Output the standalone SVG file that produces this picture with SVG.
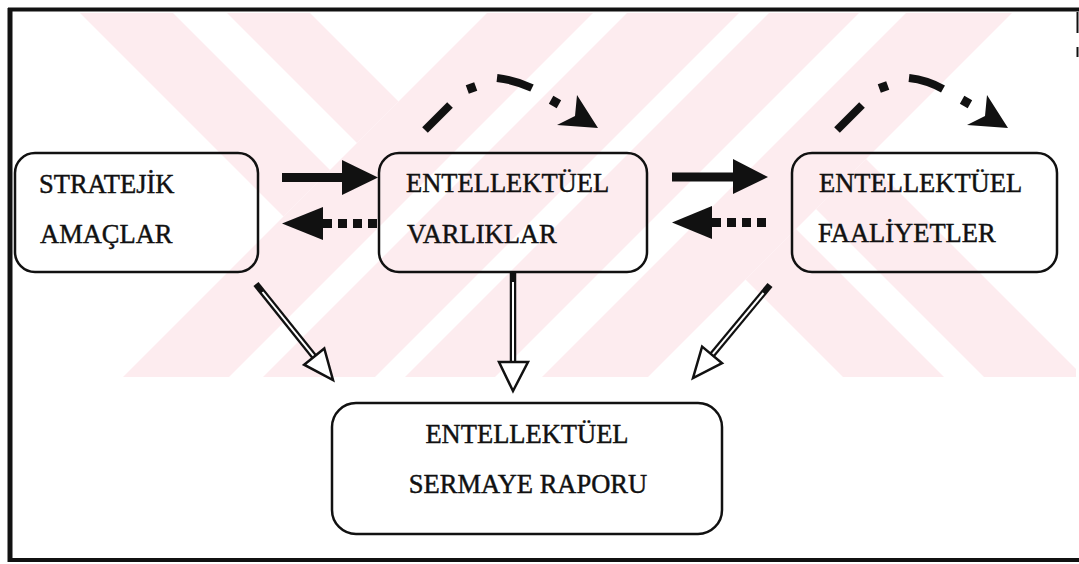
<svg xmlns="http://www.w3.org/2000/svg" width="1079" height="564" viewBox="0 0 1079 564">
<defs>
<style>
.wm{fill:#fdecef;stroke:none}
.box{fill:none;stroke:#111;stroke-width:2.5}
.t{font-family:"Liberation Serif","Times New Roman",serif;font-size:26.5px;fill:#111;stroke:#111;stroke-width:0.45}
.solid{stroke:#111;stroke-width:9;fill:none}
.dots{stroke:#111;stroke-width:9;fill:none;stroke-dasharray:9 6}
.head{fill:#111;stroke:none}
.dash{stroke:#111;stroke-width:8;fill:none;stroke-linecap:butt}
.shaft{stroke:#111;stroke-width:6.5;fill:none}
.shaftIn{stroke:#fff;stroke-width:2;fill:none}
.ohead{fill:#fff;stroke:#111;stroke-width:2.5;stroke-linejoin:miter}
.frame{stroke:#111;fill:none}
</style>
<clipPath id="wmClip"><rect x="14" y="13" width="1062" height="364"/></clipPath>
<clipPath id="leftZone"><polygon points="0,13 487,13 123,377 0,377"/></clipPath>
<clipPath id="rightZone"><polygon points="1012,13 1079,13 1079,377 648,377"/></clipPath>
</defs>
<rect width="1079" height="564" fill="#fff"/>
<g id="watermark" clip-path="url(#wmClip)">
<polygon class="wm" points="487,13 593,13 229,377 123,377"/>
<polygon class="wm" points="627,13 739,13 375,377 263,377"/>
<polygon class="wm" points="769,13 859,13 495,377 405,377"/>
<polygon class="wm" points="906,13 1012,13 648,377 542,377"/>
<g clip-path="url(#leftZone)">
<polygon class="wm" points="80,13 173,13 537,377 444,377"/>
<polygon class="wm" points="227,13 310,13 674,377 591,377"/>
</g>
<g clip-path="url(#rightZone)">
<polygon class="wm" points="479,13 580,13 944,377 843,377"/>
<polygon class="wm" points="620,13 720,13 1084,377 984,377"/>
</g>
</g>
<g id="frame">
<line class="frame" x1="8" y1="9.5" x2="1079" y2="9.5" stroke-width="4"/>
<line class="frame" x1="10" y1="8" x2="10" y2="562" stroke-width="5"/>
<line class="frame" x1="8" y1="560" x2="1079" y2="560" stroke-width="4"/>
<line class="frame" x1="1077.5" y1="12" x2="1077.5" y2="33" stroke-width="2"/>
<line class="frame" x1="1077.5" y1="47" x2="1077.5" y2="57" stroke-width="2"/>
</g>
<g id="connectors">
<g id="c-strat-varlik">
<line class="solid" x1="282" y1="177.5" x2="345" y2="177.5"/>
<polygon class="head" points="342,160 378,177.5 342,195"/>
</g>
<g id="c-varlik-strat">
<line class="dots" x1="323" y1="223.5" x2="378" y2="223.5"/>
<polygon class="head" points="323,207 282,223.5 323,240"/>
</g>
<g id="c-varlik-faal">
<line class="solid" x1="672" y1="177" x2="736" y2="177"/>
<polygon class="head" points="733,159 768,177 733,194"/>
</g>
<g id="c-faal-varlik">
<line class="dots" x1="712" y1="222.5" x2="768" y2="222.5"/>
<polygon class="head" points="712,206 672,222.5 712,239"/>
</g>
<g id="c-curve-1">
<line class="dash" x1="425" y1="130" x2="450" y2="105"/>
<rect x="467" y="83.5" width="9" height="9" fill="#111" transform="rotate(-20 471.5 88)"/>
<path class="dash" d="M497,78 Q515,80 532,88"/>
<rect x="550.5" y="97.5" width="9" height="9" fill="#111" transform="rotate(30 555 102)"/>
<polygon class="head" points="577,95 598,128 557,125 575,116"/>
</g>
<g id="c-curve-2">
<line class="dash" x1="837" y1="130" x2="862" y2="105"/>
<rect x="879" y="82.5" width="9" height="9" fill="#111" transform="rotate(-20 883.5 87)"/>
<path class="dash" d="M909,78 Q927,80 943,89"/>
<rect x="961.5" y="97.5" width="9" height="9" fill="#111" transform="rotate(30 966 102)"/>
<polygon class="head" points="987,95 1008,128 967,125 985,116"/>
</g>
<g id="c-strat-rapor">
<line class="shaft" x1="256" y1="284" x2="314.2" y2="356.6"/>
<line class="shaftIn" x1="262.5" y1="292" x2="314.2" y2="356.6"/>
<polygon class="ohead" points="324.3,348.5 333,380 304.1,364.7"/>
</g>
<g id="c-varlik-rapor">
<line class="shaft" x1="513" y1="272" x2="513" y2="362"/>
<line class="shaftIn" x1="513" y1="282" x2="513" y2="362"/>
<polygon class="ohead" points="499,362 528,362 513,391"/>
</g>
<g id="c-faal-rapor">
<line class="shaft" x1="770" y1="285" x2="712.1" y2="354.9"/>
<line class="shaftIn" x1="763.5" y1="293" x2="712.1" y2="354.9"/>
<polygon class="ohead" points="722.1,363.2 693,378 702.1,346.6"/>
</g>
</g>
<g id="n-stratejik">
<rect class="box" x="15" y="153" width="243" height="119" rx="20"/>
<text class="t" x="39" y="193">STRATEJİK</text>
<text class="t" x="40" y="243">AMAÇLAR</text>
</g>
<g id="n-varliklar">
<rect class="box" x="379" y="153" width="268" height="119" rx="20"/>
<text class="t" x="406" y="192">ENTELLEKTÜEL</text>
<text class="t" x="407" y="243">VARLIKLAR</text>
</g>
<g id="n-faaliyetler">
<rect class="box" x="792" y="153" width="265" height="119" rx="20"/>
<text class="t" x="819" y="192">ENTELLEKTÜEL</text>
<text class="t" x="818" y="242">FAALİYETLER</text>
</g>
<g id="n-rapor">
<rect class="box" x="332" y="403" width="390" height="131" rx="24"/>
<text class="t" x="527" y="443" text-anchor="middle">ENTELLEKTÜEL</text>
<text class="t" x="528" y="493" text-anchor="middle">SERMAYE RAPORU</text>
</g>
</svg>
